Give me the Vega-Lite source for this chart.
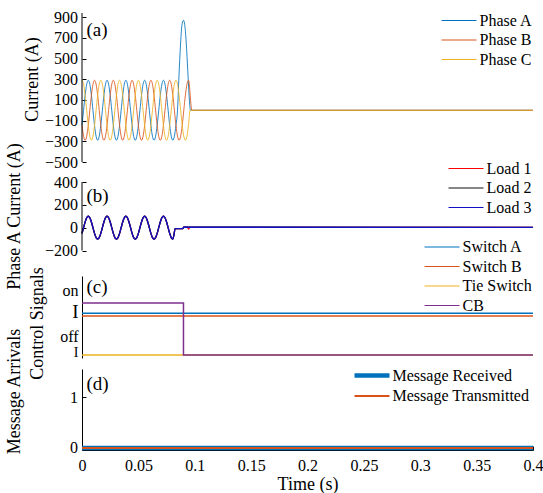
{
  "$schema": "https://vega.github.io/schema/vega-lite/v6.json",
  "background": "white",
  "padding": {"left": 5, "top": 9, "right": 0, "bottom": 0},
  "config": {
    "view": {"stroke": null},
    "font": "Liberation Serif",
    "axis": {"grid": false, "domainColor": "#000", "tickColor": "#000", "labelColor": "#000", "titleColor": "#000", "labelFont": "Liberation Serif", "titleFont": "Liberation Serif", "labelFontSize": 16, "titleFontSize": 18, "titleFontWeight": "normal", "tickSize": -4, "labelPadding": 8.5, "domainWidth": 1, "tickWidth": 1, "labelOverlap": false, "labelBound": false},
    "legend": {"labelFont": "Liberation Serif", "labelFontSize": 16, "labelColor": "#000", "padding": 0, "rowPadding": 3.5, "symbolType": "M-17.5,0H17.5", "symbolSize": 4, "labelOffset": 12.5, "orient": "none", "title": null}
  },
  "datasets": {
    "phases": [
      {"time":0,"series":"Phase A","value":-145},{"time":0.00139,"series":"Phase A","value":0},{"time":0.00278,"series":"Phase A","value":145},{"time":0.00417,"series":"Phase A","value":251},{"time":0.00556,"series":"Phase A","value":290},{"time":0.00694,"series":"Phase A","value":251},{"time":0.00833,"series":"Phase A","value":145},{"time":0.00972,"series":"Phase A","value":0},{"time":0.01111,"series":"Phase A","value":-145},{"time":0.0125,"series":"Phase A","value":-251},{"time":0.01389,"series":"Phase A","value":-290},{"time":0.01528,"series":"Phase A","value":-251},
      {"time":0.01667,"series":"Phase A","value":-145},{"time":0.01806,"series":"Phase A","value":0},{"time":0.01944,"series":"Phase A","value":145},{"time":0.02083,"series":"Phase A","value":251},{"time":0.02222,"series":"Phase A","value":290},{"time":0.02361,"series":"Phase A","value":251},{"time":0.025,"series":"Phase A","value":145},{"time":0.02639,"series":"Phase A","value":0},{"time":0.02778,"series":"Phase A","value":-145},{"time":0.02917,"series":"Phase A","value":-251},{"time":0.03056,"series":"Phase A","value":-290},{"time":0.03194,"series":"Phase A","value":-251},
      {"time":0.03333,"series":"Phase A","value":-145},{"time":0.03472,"series":"Phase A","value":0},{"time":0.03611,"series":"Phase A","value":145},{"time":0.0375,"series":"Phase A","value":251},{"time":0.03889,"series":"Phase A","value":290},{"time":0.04028,"series":"Phase A","value":251},{"time":0.04167,"series":"Phase A","value":145},{"time":0.04306,"series":"Phase A","value":0},{"time":0.04444,"series":"Phase A","value":-145},{"time":0.04583,"series":"Phase A","value":-251},{"time":0.04722,"series":"Phase A","value":-290},{"time":0.04861,"series":"Phase A","value":-251},
      {"time":0.05,"series":"Phase A","value":-145},{"time":0.05139,"series":"Phase A","value":0},{"time":0.05278,"series":"Phase A","value":145},{"time":0.05417,"series":"Phase A","value":251},{"time":0.05556,"series":"Phase A","value":290},{"time":0.05694,"series":"Phase A","value":251},{"time":0.05833,"series":"Phase A","value":145},{"time":0.05972,"series":"Phase A","value":0},{"time":0.06111,"series":"Phase A","value":-145},{"time":0.0625,"series":"Phase A","value":-251},{"time":0.06389,"series":"Phase A","value":-290},{"time":0.06528,"series":"Phase A","value":-251},
      {"time":0.06667,"series":"Phase A","value":-145},{"time":0.06806,"series":"Phase A","value":0},{"time":0.06944,"series":"Phase A","value":145},{"time":0.07083,"series":"Phase A","value":251},{"time":0.07222,"series":"Phase A","value":290},{"time":0.07361,"series":"Phase A","value":251},{"time":0.075,"series":"Phase A","value":145},{"time":0.07639,"series":"Phase A","value":0},{"time":0.07778,"series":"Phase A","value":-145},{"time":0.07917,"series":"Phase A","value":-251},{"time":0.08056,"series":"Phase A","value":-290},{"time":0.08194,"series":"Phase A","value":-251},
      {"time":0.08333,"series":"Phase A","value":-145},{"time":0.08472,"series":"Phase A","value":0},{"time":0.086,"series":"Phase A","value":330},{"time":0.0873,"series":"Phase A","value":620},{"time":0.0886,"series":"Phase A","value":820},{"time":0.09,"series":"Phase A","value":870},{"time":0.0914,"series":"Phase A","value":800},{"time":0.0928,"series":"Phase A","value":590},{"time":0.0942,"series":"Phase A","value":300},{"time":0.0955,"series":"Phase A","value":60},{"time":0.0962,"series":"Phase A","value":0},{"time":0.4,"series":"Phase A","value":0},

      {"time":0,"series":"Phase B","value":-145},{"time":0.00139,"series":"Phase B","value":-251},{"time":0.00278,"series":"Phase B","value":-290},{"time":0.00417,"series":"Phase B","value":-251},{"time":0.00556,"series":"Phase B","value":-145},{"time":0.00694,"series":"Phase B","value":0},{"time":0.00833,"series":"Phase B","value":145},{"time":0.00972,"series":"Phase B","value":251},{"time":0.01111,"series":"Phase B","value":290},{"time":0.0125,"series":"Phase B","value":251},{"time":0.01389,"series":"Phase B","value":145},{"time":0.01528,"series":"Phase B","value":0},
      {"time":0.01667,"series":"Phase B","value":-145},{"time":0.01806,"series":"Phase B","value":-251},{"time":0.01944,"series":"Phase B","value":-290},{"time":0.02083,"series":"Phase B","value":-251},{"time":0.02222,"series":"Phase B","value":-145},{"time":0.02361,"series":"Phase B","value":0},{"time":0.025,"series":"Phase B","value":145},{"time":0.02639,"series":"Phase B","value":251},{"time":0.02778,"series":"Phase B","value":290},{"time":0.02917,"series":"Phase B","value":251},{"time":0.03056,"series":"Phase B","value":145},{"time":0.03194,"series":"Phase B","value":0},
      {"time":0.03333,"series":"Phase B","value":-145},{"time":0.03472,"series":"Phase B","value":-251},{"time":0.03611,"series":"Phase B","value":-290},{"time":0.0375,"series":"Phase B","value":-251},{"time":0.03889,"series":"Phase B","value":-145},{"time":0.04028,"series":"Phase B","value":0},{"time":0.04167,"series":"Phase B","value":145},{"time":0.04306,"series":"Phase B","value":251},{"time":0.04444,"series":"Phase B","value":290},{"time":0.04583,"series":"Phase B","value":251},{"time":0.04722,"series":"Phase B","value":145},{"time":0.04861,"series":"Phase B","value":0},
      {"time":0.05,"series":"Phase B","value":-145},{"time":0.05139,"series":"Phase B","value":-251},{"time":0.05278,"series":"Phase B","value":-290},{"time":0.05417,"series":"Phase B","value":-251},{"time":0.05556,"series":"Phase B","value":-145},{"time":0.05694,"series":"Phase B","value":0},{"time":0.05833,"series":"Phase B","value":145},{"time":0.05972,"series":"Phase B","value":251},{"time":0.06111,"series":"Phase B","value":290},{"time":0.0625,"series":"Phase B","value":251},{"time":0.06389,"series":"Phase B","value":145},{"time":0.06528,"series":"Phase B","value":0},
      {"time":0.06667,"series":"Phase B","value":-145},{"time":0.06806,"series":"Phase B","value":-251},{"time":0.06944,"series":"Phase B","value":-290},{"time":0.07083,"series":"Phase B","value":-251},{"time":0.07222,"series":"Phase B","value":-145},{"time":0.07361,"series":"Phase B","value":0},{"time":0.075,"series":"Phase B","value":145},{"time":0.07639,"series":"Phase B","value":251},{"time":0.07778,"series":"Phase B","value":290},{"time":0.07917,"series":"Phase B","value":251},{"time":0.08056,"series":"Phase B","value":145},{"time":0.08194,"series":"Phase B","value":0},
      {"time":0.08333,"series":"Phase B","value":-145},{"time":0.08472,"series":"Phase B","value":-251},{"time":0.08611,"series":"Phase B","value":-290},{"time":0.0875,"series":"Phase B","value":-251},{"time":0.08889,"series":"Phase B","value":-145},{"time":0.09028,"series":"Phase B","value":0},{"time":0.09167,"series":"Phase B","value":145},{"time":0.09306,"series":"Phase B","value":251},{"time":0.09444,"series":"Phase B","value":290},{"time":0.0975,"series":"Phase B","value":0},{"time":0.4,"series":"Phase B","value":0},

      {"time":0,"series":"Phase C","value":290},{"time":0.00139,"series":"Phase C","value":251},{"time":0.00278,"series":"Phase C","value":145},{"time":0.00417,"series":"Phase C","value":0},{"time":0.00556,"series":"Phase C","value":-145},{"time":0.00694,"series":"Phase C","value":-251},{"time":0.00833,"series":"Phase C","value":-290},{"time":0.00972,"series":"Phase C","value":-251},{"time":0.01111,"series":"Phase C","value":-145},{"time":0.0125,"series":"Phase C","value":0},{"time":0.01389,"series":"Phase C","value":145},{"time":0.01528,"series":"Phase C","value":251},
      {"time":0.01667,"series":"Phase C","value":290},{"time":0.01806,"series":"Phase C","value":251},{"time":0.01944,"series":"Phase C","value":145},{"time":0.02083,"series":"Phase C","value":0},{"time":0.02222,"series":"Phase C","value":-145},{"time":0.02361,"series":"Phase C","value":-251},{"time":0.025,"series":"Phase C","value":-290},{"time":0.02639,"series":"Phase C","value":-251},{"time":0.02778,"series":"Phase C","value":-145},{"time":0.02917,"series":"Phase C","value":0},{"time":0.03056,"series":"Phase C","value":145},{"time":0.03194,"series":"Phase C","value":251},
      {"time":0.03333,"series":"Phase C","value":290},{"time":0.03472,"series":"Phase C","value":251},{"time":0.03611,"series":"Phase C","value":145},{"time":0.0375,"series":"Phase C","value":0},{"time":0.03889,"series":"Phase C","value":-145},{"time":0.04028,"series":"Phase C","value":-251},{"time":0.04167,"series":"Phase C","value":-290},{"time":0.04306,"series":"Phase C","value":-251},{"time":0.04444,"series":"Phase C","value":-145},{"time":0.04583,"series":"Phase C","value":0},{"time":0.04722,"series":"Phase C","value":145},{"time":0.04861,"series":"Phase C","value":251},
      {"time":0.05,"series":"Phase C","value":290},{"time":0.05139,"series":"Phase C","value":251},{"time":0.05278,"series":"Phase C","value":145},{"time":0.05417,"series":"Phase C","value":0},{"time":0.05556,"series":"Phase C","value":-145},{"time":0.05694,"series":"Phase C","value":-251},{"time":0.05833,"series":"Phase C","value":-290},{"time":0.05972,"series":"Phase C","value":-251},{"time":0.06111,"series":"Phase C","value":-145},{"time":0.0625,"series":"Phase C","value":0},{"time":0.06389,"series":"Phase C","value":145},{"time":0.06528,"series":"Phase C","value":251},
      {"time":0.06667,"series":"Phase C","value":290},{"time":0.06806,"series":"Phase C","value":251},{"time":0.06944,"series":"Phase C","value":145},{"time":0.07083,"series":"Phase C","value":0},{"time":0.07222,"series":"Phase C","value":-145},{"time":0.07361,"series":"Phase C","value":-251},{"time":0.075,"series":"Phase C","value":-290},{"time":0.07639,"series":"Phase C","value":-251},{"time":0.07778,"series":"Phase C","value":-145},{"time":0.07917,"series":"Phase C","value":0},{"time":0.08056,"series":"Phase C","value":145},{"time":0.08194,"series":"Phase C","value":251},
      {"time":0.08333,"series":"Phase C","value":290},{"time":0.08472,"series":"Phase C","value":251},{"time":0.08611,"series":"Phase C","value":145},{"time":0.0875,"series":"Phase C","value":0},{"time":0.08889,"series":"Phase C","value":-145},{"time":0.09028,"series":"Phase C","value":-251},{"time":0.09167,"series":"Phase C","value":-290},{"time":0.09306,"series":"Phase C","value":-251},{"time":0.09444,"series":"Phase C","value":-145},{"time":0.09583,"series":"Phase C","value":0},{"time":0.4,"series":"Phase C","value":0}
    ],
    "loads": [
      {"time":0,"series":"Load 1","value":-50},{"time":0.00139,"series":"Load 1","value":0},{"time":0.00278,"series":"Load 1","value":50},{"time":0.00417,"series":"Load 1","value":87},{"time":0.00556,"series":"Load 1","value":100},{"time":0.00694,"series":"Load 1","value":87},{"time":0.00833,"series":"Load 1","value":50},{"time":0.00972,"series":"Load 1","value":0},{"time":0.01111,"series":"Load 1","value":-50},{"time":0.0125,"series":"Load 1","value":-87},{"time":0.01389,"series":"Load 1","value":-100},{"time":0.01528,"series":"Load 1","value":-87},
      {"time":0.01667,"series":"Load 1","value":-50},{"time":0.01806,"series":"Load 1","value":0},{"time":0.01944,"series":"Load 1","value":50},{"time":0.02083,"series":"Load 1","value":87},{"time":0.02222,"series":"Load 1","value":100},{"time":0.02361,"series":"Load 1","value":87},{"time":0.025,"series":"Load 1","value":50},{"time":0.02639,"series":"Load 1","value":0},{"time":0.02778,"series":"Load 1","value":-50},{"time":0.02917,"series":"Load 1","value":-87},{"time":0.03056,"series":"Load 1","value":-100},{"time":0.03194,"series":"Load 1","value":-87},
      {"time":0.03333,"series":"Load 1","value":-50},{"time":0.03472,"series":"Load 1","value":0},{"time":0.03611,"series":"Load 1","value":50},{"time":0.0375,"series":"Load 1","value":87},{"time":0.03889,"series":"Load 1","value":100},{"time":0.04028,"series":"Load 1","value":87},{"time":0.04167,"series":"Load 1","value":50},{"time":0.04306,"series":"Load 1","value":0},{"time":0.04444,"series":"Load 1","value":-50},{"time":0.04583,"series":"Load 1","value":-87},{"time":0.04722,"series":"Load 1","value":-100},{"time":0.04861,"series":"Load 1","value":-87},
      {"time":0.05,"series":"Load 1","value":-50},{"time":0.05139,"series":"Load 1","value":0},{"time":0.05278,"series":"Load 1","value":50},{"time":0.05417,"series":"Load 1","value":87},{"time":0.05556,"series":"Load 1","value":100},{"time":0.05694,"series":"Load 1","value":87},{"time":0.05833,"series":"Load 1","value":50},{"time":0.05972,"series":"Load 1","value":0},{"time":0.06111,"series":"Load 1","value":-50},{"time":0.0625,"series":"Load 1","value":-87},{"time":0.06389,"series":"Load 1","value":-100},{"time":0.06528,"series":"Load 1","value":-87},
      {"time":0.06667,"series":"Load 1","value":-50},{"time":0.06806,"series":"Load 1","value":0},{"time":0.06944,"series":"Load 1","value":50},{"time":0.07083,"series":"Load 1","value":87},{"time":0.07222,"series":"Load 1","value":100},{"time":0.07361,"series":"Load 1","value":87},{"time":0.075,"series":"Load 1","value":50},{"time":0.07639,"series":"Load 1","value":0},{"time":0.07778,"series":"Load 1","value":-50},{"time":0.07917,"series":"Load 1","value":-87},{"time":0.08056,"series":"Load 1","value":-100},{"time":0.0816,"series":"Load 1","value":-60},{"time":0.0826,"series":"Load 1","value":-8},{"time":0.0895,"series":"Load 1","value":-8},{"time":0.0901,"series":"Load 1","value":4},{"time":0.0935,"series":"Load 1","value":4},{"time":0.0945,"series":"Load 1","value":-12},{"time":0.0955,"series":"Load 1","value":3},{"time":0.4,"series":"Load 1","value":3},

      {"time":0,"series":"Load 2","value":-50},{"time":0.00139,"series":"Load 2","value":0},{"time":0.00278,"series":"Load 2","value":50},{"time":0.00417,"series":"Load 2","value":87},{"time":0.00556,"series":"Load 2","value":100},{"time":0.00694,"series":"Load 2","value":87},{"time":0.00833,"series":"Load 2","value":50},{"time":0.00972,"series":"Load 2","value":0},{"time":0.01111,"series":"Load 2","value":-50},{"time":0.0125,"series":"Load 2","value":-87},{"time":0.01389,"series":"Load 2","value":-100},{"time":0.01528,"series":"Load 2","value":-87},
      {"time":0.01667,"series":"Load 2","value":-50},{"time":0.01806,"series":"Load 2","value":0},{"time":0.01944,"series":"Load 2","value":50},{"time":0.02083,"series":"Load 2","value":87},{"time":0.02222,"series":"Load 2","value":100},{"time":0.02361,"series":"Load 2","value":87},{"time":0.025,"series":"Load 2","value":50},{"time":0.02639,"series":"Load 2","value":0},{"time":0.02778,"series":"Load 2","value":-50},{"time":0.02917,"series":"Load 2","value":-87},{"time":0.03056,"series":"Load 2","value":-100},{"time":0.03194,"series":"Load 2","value":-87},
      {"time":0.03333,"series":"Load 2","value":-50},{"time":0.03472,"series":"Load 2","value":0},{"time":0.03611,"series":"Load 2","value":50},{"time":0.0375,"series":"Load 2","value":87},{"time":0.03889,"series":"Load 2","value":100},{"time":0.04028,"series":"Load 2","value":87},{"time":0.04167,"series":"Load 2","value":50},{"time":0.04306,"series":"Load 2","value":0},{"time":0.04444,"series":"Load 2","value":-50},{"time":0.04583,"series":"Load 2","value":-87},{"time":0.04722,"series":"Load 2","value":-100},{"time":0.04861,"series":"Load 2","value":-87},
      {"time":0.05,"series":"Load 2","value":-50},{"time":0.05139,"series":"Load 2","value":0},{"time":0.05278,"series":"Load 2","value":50},{"time":0.05417,"series":"Load 2","value":87},{"time":0.05556,"series":"Load 2","value":100},{"time":0.05694,"series":"Load 2","value":87},{"time":0.05833,"series":"Load 2","value":50},{"time":0.05972,"series":"Load 2","value":0},{"time":0.06111,"series":"Load 2","value":-50},{"time":0.0625,"series":"Load 2","value":-87},{"time":0.06389,"series":"Load 2","value":-100},{"time":0.06528,"series":"Load 2","value":-87},
      {"time":0.06667,"series":"Load 2","value":-50},{"time":0.06806,"series":"Load 2","value":0},{"time":0.06944,"series":"Load 2","value":50},{"time":0.07083,"series":"Load 2","value":87},{"time":0.07222,"series":"Load 2","value":100},{"time":0.07361,"series":"Load 2","value":87},{"time":0.075,"series":"Load 2","value":50},{"time":0.07639,"series":"Load 2","value":0},{"time":0.07778,"series":"Load 2","value":-50},{"time":0.07917,"series":"Load 2","value":-87},{"time":0.08056,"series":"Load 2","value":-100},{"time":0.0816,"series":"Load 2","value":-60},{"time":0.0826,"series":"Load 2","value":-8},{"time":0.0895,"series":"Load 2","value":-8},{"time":0.0901,"series":"Load 2","value":4},{"time":0.4,"series":"Load 2","value":3},

      {"time":0,"series":"Load 3","value":-50},{"time":0.00139,"series":"Load 3","value":0},{"time":0.00278,"series":"Load 3","value":50},{"time":0.00417,"series":"Load 3","value":87},{"time":0.00556,"series":"Load 3","value":100},{"time":0.00694,"series":"Load 3","value":87},{"time":0.00833,"series":"Load 3","value":50},{"time":0.00972,"series":"Load 3","value":0},{"time":0.01111,"series":"Load 3","value":-50},{"time":0.0125,"series":"Load 3","value":-87},{"time":0.01389,"series":"Load 3","value":-100},{"time":0.01528,"series":"Load 3","value":-87},
      {"time":0.01667,"series":"Load 3","value":-50},{"time":0.01806,"series":"Load 3","value":0},{"time":0.01944,"series":"Load 3","value":50},{"time":0.02083,"series":"Load 3","value":87},{"time":0.02222,"series":"Load 3","value":100},{"time":0.02361,"series":"Load 3","value":87},{"time":0.025,"series":"Load 3","value":50},{"time":0.02639,"series":"Load 3","value":0},{"time":0.02778,"series":"Load 3","value":-50},{"time":0.02917,"series":"Load 3","value":-87},{"time":0.03056,"series":"Load 3","value":-100},{"time":0.03194,"series":"Load 3","value":-87},
      {"time":0.03333,"series":"Load 3","value":-50},{"time":0.03472,"series":"Load 3","value":0},{"time":0.03611,"series":"Load 3","value":50},{"time":0.0375,"series":"Load 3","value":87},{"time":0.03889,"series":"Load 3","value":100},{"time":0.04028,"series":"Load 3","value":87},{"time":0.04167,"series":"Load 3","value":50},{"time":0.04306,"series":"Load 3","value":0},{"time":0.04444,"series":"Load 3","value":-50},{"time":0.04583,"series":"Load 3","value":-87},{"time":0.04722,"series":"Load 3","value":-100},{"time":0.04861,"series":"Load 3","value":-87},
      {"time":0.05,"series":"Load 3","value":-50},{"time":0.05139,"series":"Load 3","value":0},{"time":0.05278,"series":"Load 3","value":50},{"time":0.05417,"series":"Load 3","value":87},{"time":0.05556,"series":"Load 3","value":100},{"time":0.05694,"series":"Load 3","value":87},{"time":0.05833,"series":"Load 3","value":50},{"time":0.05972,"series":"Load 3","value":0},{"time":0.06111,"series":"Load 3","value":-50},{"time":0.0625,"series":"Load 3","value":-87},{"time":0.06389,"series":"Load 3","value":-100},{"time":0.06528,"series":"Load 3","value":-87},
      {"time":0.06667,"series":"Load 3","value":-50},{"time":0.06806,"series":"Load 3","value":0},{"time":0.06944,"series":"Load 3","value":50},{"time":0.07083,"series":"Load 3","value":87},{"time":0.07222,"series":"Load 3","value":100},{"time":0.07361,"series":"Load 3","value":87},{"time":0.075,"series":"Load 3","value":50},{"time":0.07639,"series":"Load 3","value":0},{"time":0.07778,"series":"Load 3","value":-50},{"time":0.07917,"series":"Load 3","value":-87},{"time":0.08056,"series":"Load 3","value":-100},{"time":0.0816,"series":"Load 3","value":-60},{"time":0.0826,"series":"Load 3","value":-8},{"time":0.0895,"series":"Load 3","value":-8},{"time":0.0901,"series":"Load 3","value":4},{"time":0.4,"series":"Load 3","value":3}
    ],
    "signals": [
      {"time":0,"series":"Switch A","value":0.8},{"time":0.4,"series":"Switch A","value":0.8},
      {"time":0,"series":"Switch B","value":0.75},{"time":0.4,"series":"Switch B","value":0.75},
      {"time":0,"series":"Tie Switch","value":0},{"time":0.4,"series":"Tie Switch","value":0},
      {"time":0,"series":"CB","value":1},{"time":0.09,"series":"CB","value":0},{"time":0.4,"series":"CB","value":0}
    ],
    "messages": [
      {"time":0,"series":"Message Received","value":0},{"time":0.4,"series":"Message Received","value":0},
      {"time":0,"series":"Message Transmitted","value":0},{"time":0.4,"series":"Message Transmitted","value":0}
    ]
  },
  "bounds": "flush",
  "spacing": 11,
  "resolve": {"scale": {"x": "independent", "y": "independent", "color": "independent", "strokeWidth": "independent"}, "legend": {"color": "independent", "strokeWidth": "independent"}},
  "vconcat": [
    {
      "width": 451, "height": 157.5,
      "layer": [
        {
          "data": {"name": "phases"},
          "mark": {"type": "line", "interpolate": "monotone", "strokeWidth": 1, "strokeOpacity": 0.85},
          "encoding": {
            "x": {"field": "time", "type": "quantitative", "scale": {"domain": [0, 0.4], "nice": false}, "axis": null},
            "y": {"field": "value", "type": "quantitative", "scale": {"domain": [-582, 940], "nice": false, "zero": false},
                  "axis": {"title": "Current (A)", "domain": false, "tickCount": 20, "labelOverlap": false, "values": [-500, -300, -100, 100, 300, 500, 700, 900], "titleX": -49.5, "titleY": 66, "titleAlign": "center", "titleBaseline": "middle"}},
            "color": {"field": "series", "type": "nominal", "scale": {"domain": ["Phase A", "Phase B", "Phase C"], "range": ["#0072BD", "#D95319", "#EDB120"]},
                      "legend": {"legendX": 369, "legendY": -0.5, "symbolStrokeWidth": 1.2}}
          }
        },
        {
          "data": {"values": [{}]},
          "mark": {"type": "rule", "color": "#000", "strokeWidth": 1},
          "encoding": {"x": {"datum": 0, "type": "quantitative"}, "y": {"datum": -500, "type": "quantitative"}, "y2": {"datum": 940}}
        },
        {
          "data": {"values": [{"label": "(a)"}]},
          "mark": {"type": "text", "align": "left", "baseline": "middle", "fontSize": 19, "font": "Liberation Serif", "color": "#000"},
          "encoding": {"x": {"datum": 0.004, "type": "quantitative"}, "y": {"datum": 775, "type": "quantitative"}, "text": {"field": "label"}}
        }
      ]
    },
    {
      "width": 451, "height": 82.5,
      "layer": [
        {
          "data": {"name": "loads"},
          "mark": {"type": "line", "interpolate": "monotone", "strokeWidth": 1.3},
          "encoding": {
            "x": {"field": "time", "type": "quantitative", "scale": {"domain": [0, 0.4], "nice": false}, "axis": null},
            "y": {"field": "value", "type": "quantitative", "scale": {"domain": [-322.6, 400], "nice": false, "zero": false},
                  "axis": {"title": "Phase A Current (A)", "domain": false, "tickCount": 20, "labelOverlap": false, "values": [-200, 0, 200, 400], "titleX": -67.5, "titleY": 34, "titleAlign": "center", "titleBaseline": "middle"}},
            "color": {"field": "series", "type": "nominal", "scale": {"domain": ["Load 1", "Load 2", "Load 3"], "range": ["#FF0000", "#111111", "#1010C8"]},
                      "legend": {"legendX": 376, "legendY": -21.5, "symbolStrokeWidth": 1.2}}
          }
        },
        {
          "data": {"values": [{}]},
          "mark": {"type": "rule", "color": "#000", "strokeWidth": 1},
          "encoding": {"x": {"datum": 0, "type": "quantitative"}, "y": {"datum": -200, "type": "quantitative"}, "y2": {"datum": 400}}
        },
        {
          "data": {"values": [{"label": "(b)"}]},
          "mark": {"type": "text", "align": "left", "baseline": "middle", "fontSize": 19, "font": "Liberation Serif", "color": "#000"},
          "encoding": {"x": {"datum": 0.004, "type": "quantitative"}, "y": {"datum": 273, "type": "quantitative"}, "text": {"field": "label"}}
        }
      ]
    },
    {
      "width": 451, "height": 82,
      "layer": [
        {
          "data": {"name": "signals"},
          "mark": {"type": "line", "interpolate": "step-after", "strokeWidth": 1.5},
          "encoding": {
            "x": {"field": "time", "type": "quantitative", "scale": {"domain": [0, 0.4], "nice": false}, "axis": null},
            "y": {"field": "value", "type": "quantitative", "scale": {"domain": [-0.06, 1.52], "nice": false, "zero": false},
                  "axis": {"title": "Control Signals", "tickCount": 20, "labelOverlap": false, "values": [1.24, 0.84, 0.35, 0.05], "tickSize": 0, "labelPadding": 4,
                           "labelExpr": "datum.value > 1 ? 'on' : datum.value > 0.5 ? 'I\u00a0' : datum.value > 0.2 ? 'off' : 'I\u00a0\u00a0'",
                           "labelFontSize": {"condition": [{"test": "datum.value > 0.5 && datum.value < 1", "value": 19}, {"test": "datum.value < 0.1", "value": 14}], "value": 16},
                           "titleX": -44.5, "titleY": 47, "titleAlign": "center", "titleBaseline": "middle"}},
            "color": {"field": "series", "type": "nominal", "scale": {"domain": ["Switch A", "Switch B", "Tie Switch", "CB"], "range": ["#0072BD", "#D95319", "#EDB120", "#7E2F8E"]},
                      "legend": {"legendX": 352, "legendY": -37, "symbolStrokeWidth": 1.2}}
          }
        },
        {
          "data": {"values": [{"label": "(c)"}]},
          "mark": {"type": "text", "align": "left", "baseline": "middle", "fontSize": 19, "font": "Liberation Serif", "color": "#000"},
          "encoding": {"x": {"datum": 0.004, "type": "quantitative"}, "y": {"datum": 1.31, "type": "quantitative"}, "text": {"field": "label"}}
        }
      ]
    },
    {
      "width": 451, "height": 81,
      "layer": [
        {
          "data": {"name": "messages"},
          "mark": {"type": "line"},
          "encoding": {
            "x": {"field": "time", "type": "quantitative", "scale": {"domain": [0, 0.4], "nice": false},
                  "axis": {"title": "Time (s)", "tickCount": 20, "labelOverlap": false, "values": [0, 0.05, 0.1, 0.15, 0.2, 0.25, 0.3, 0.35, 0.4], "format": "~g", "labelPadding": 11, "titleY": 34, "titleBaseline": "middle", "labelFlush": false}},
            "y": {"field": "value", "type": "quantitative", "scale": {"domain": [-0.04, 1.55], "nice": false, "zero": false},
                  "axis": {"title": "Message Arrivals", "tickCount": 20, "labelOverlap": false, "values": [0, 1], "format": "~g", "titleX": -67.5, "titleY": 22, "titleAlign": "center", "titleBaseline": "middle"}},
            "color": {"field": "series", "type": "nominal", "scale": {"domain": ["Message Received", "Message Transmitted"], "range": ["#0072BD", "#D95319"]},
                      "legend": {"legendX": 282, "legendY": -1.5}},
            "strokeWidth": {"field": "series", "type": "nominal", "scale": {"domain": ["Message Received", "Message Transmitted"], "range": [4.5, 2]}}
          }
        },
        {
          "data": {"values": [{"label": "(d)"}]},
          "mark": {"type": "text", "align": "left", "baseline": "middle", "fontSize": 19, "font": "Liberation Serif", "color": "#000"},
          "encoding": {"x": {"datum": 0.004, "type": "quantitative"}, "y": {"datum": 1.25, "type": "quantitative"}, "text": {"field": "label"}}
        }
      ]
    }
  ]
}
